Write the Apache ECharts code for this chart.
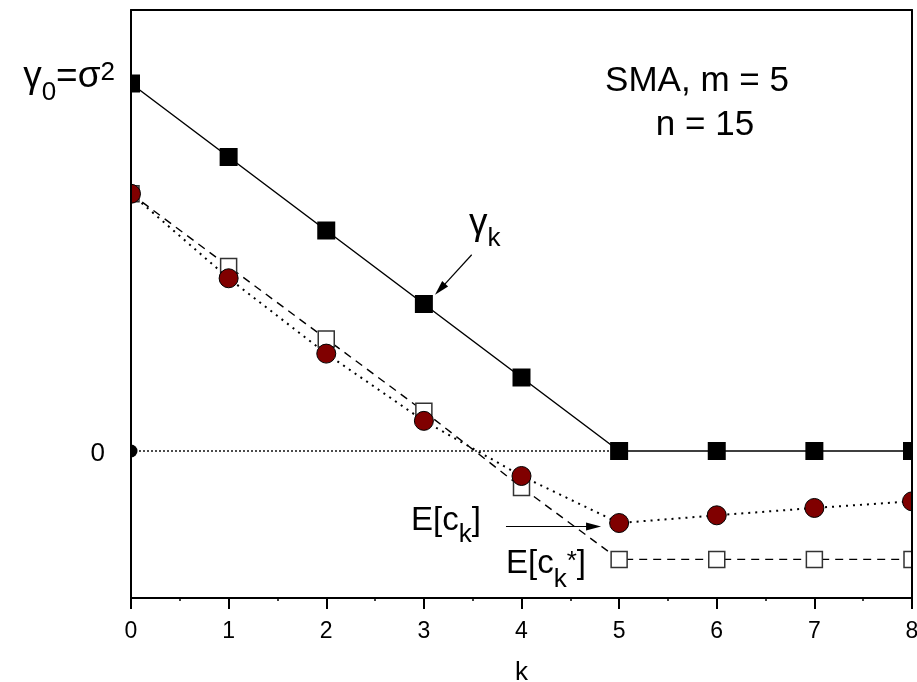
<!DOCTYPE html>
<html><head><meta charset="utf-8">
<script src="https://cdn.jsdelivr.net/npm/echarts@6/dist/echarts.min.js"></script>
<style>html,body{margin:0;padding:0;background:#fff}#c{width:917px;height:682px}</style>
</head><body><div id="c"></div>
<script>
// ---- data ----
const kValues = [0, 1, 2, 3, 4, 5, 6, 7, 8];
const gammaK = [1.0, 0.8, 0.6, 0.4, 0.2, 0, 0, 0, 0];
const expectedCk = [0.70, 0.47, 0.265, 0.082, -0.068, -0.196, -0.175, -0.155, -0.137];
const expectedCkStar = [0.70, 0.502, 0.305, 0.108, -0.099, -0.295, -0.295, -0.295, -0.295];
const zeroLine = [[0, 0], [5, 0]];
const yTickValues = [0, 1];
const yTickLabels = ['{z|0}', '{m|γ}{s|0}{m|=σ}{p|2}'];
const arrowLines = [
  [[3.49, 0.534], [3.166, 0.44]],
  [[3.841, -0.2056], [4.738, -0.2056]]
];

const FONT = 'Liberation Sans, Arial, sans-serif';
const pair = (arr) => kValues.map((k, i) => [k, arr[i]]);

const chart = echarts.init(document.getElementById('c'), null, {renderer: 'canvas'});

const option = {
  animation: false,
  backgroundColor: '#fff',
  grid: {left: 131, right: 5, top: 10, bottom: 84, containLabel: false, outerBoundsMode: 'none'},
  xAxis: [{
    type: 'value', min: 0, max: 8, interval: 1, z: 10,
    name: 'k', nameLocation: 'middle', nameGap: 62,
    nameTextStyle: {fontFamily: FONT, fontSize: 26, color: '#000'},
    axisLine: {onZero: false, lineStyle: {color: '#000', width: 2}},
    axisTick: {show: true, inside: false, length: 11, lineStyle: {color: '#000', width: 2}},
    minorTick: {show: true, splitNumber: 2, length: 3, lineStyle: {color: '#000', width: 1.5}},
    splitLine: {show: false}, minorSplitLine: {show: false},
    axisLabel: {fontFamily: FONT, fontSize: 23, color: '#000', margin: 22}
  }, {
    type: 'value', min: 0, max: 8, position: 'top', z: 10,
    axisLine: {onZero: false, lineStyle: {color: '#000', width: 2}},
    axisTick: {show: false}, axisLabel: {show: false}, splitLine: {show: false}
  }],
  yAxis: [{
    type: 'value', min: -0.4, max: 1.2, interval: 0.2, z: 10,
    axisLine: {show: true, onZero: false, lineStyle: {color: '#000', width: 2}},
    axisTick: {show: false}, splitLine: {show: false},
    axisLabel: {
      margin: 16, fontFamily: FONT, color: '#000',
      formatter: function (v) {
        for (let i = 0; i < yTickValues.length; i++) {
          if (Math.abs(v - yTickValues[i]) < 1e-6) return yTickLabels[i];
        }
        return '';
      },
      rich: {
        z: {fontFamily: FONT, fontSize: 26, color: '#000', padding: [6, 10, 0, 0]},
        m: {fontFamily: FONT, fontSize: 37, color: '#000', padding: [0, 0, 14, 0]},
        s: {fontFamily: FONT, fontSize: 26, color: '#000', padding: [19, 0, 0, 0]},
        p: {fontFamily: FONT, fontSize: 26, color: '#000', padding: [0, 0, 22, 0]}
      }
    }
  }, {
    type: 'value', min: -0.4, max: 1.2, position: 'right', z: 10,
    axisLine: {show: true, onZero: false, lineStyle: {color: '#000', width: 2}},
    axisTick: {show: false}, axisLabel: {show: false}, splitLine: {show: false}
  }],
  series: [
    {
      name: 'zero', type: 'line', z: 2,
      data: zeroLine.map((p, i) => i === 0 ? {value: p, symbol: 'circle', symbolSize: 13} : {value: p, symbol: 'none'}),
      lineStyle: {color: '#000', width: 1.4, type: [2, 2]},
      itemStyle: {color: '#000'},
      markLine: {
        silent: true, animation: false,
        symbol: ['none', 'path://M5,0L10,30L0,30Z'], symbolSize: [8, 15],
        label: {show: false},
        lineStyle: {color: '#000', width: 1.2, type: 'solid'},
        data: arrowLines.map(a => [{coord: a[0]}, {coord: a[1]}])
      }
    },
    {
      name: 'gamma', type: 'line', z: 3,
      data: pair(gammaK),
      symbol: 'rect', symbolSize: 18,
      lineStyle: {color: '#000', width: 1.5, type: 'solid'},
      itemStyle: {color: '#000'}
    },
    {
      name: 'Eck*', type: 'line', z: 3,
      data: pair(expectedCkStar),
      symbol: 'rect', symbolSize: 16,
      lineStyle: {color: '#000', width: 1.4, type: [8, 6]},
      itemStyle: {color: '#fff', borderColor: '#333', borderWidth: 1.5}
    },
    {
      name: 'Eck', type: 'line', z: 4,
      data: pair(expectedCk),
      symbol: 'circle', symbolSize: 19,
      lineStyle: {color: '#000', width: 2, type: [2, 5]},
      itemStyle: {color: '#800000', borderColor: '#000', borderWidth: 1}
    }
  ],
  graphic: [
    // masks outside the plot rectangle (clip markers at the frame)
    {type: 'rect', z: 6, silent: true, shape: {x: 0, y: 0, width: 131, height: 682}, style: {fill: '#fff'}},
    {type: 'rect', z: 6, silent: true, shape: {x: 912, y: 0, width: 5, height: 682}, style: {fill: '#fff'}},
    {type: 'rect', z: 6, silent: true, shape: {x: 0, y: 0, width: 917, height: 10}, style: {fill: '#fff'}},
    {type: 'rect', z: 6, silent: true, shape: {x: 0, y: 598, width: 917, height: 84}, style: {fill: '#fff'}},
    // annotations
    {type: 'text', z: 20, silent: true, style: {x: 697, y: 81, text: 'SMA, m = 5', align: 'center', verticalAlign: 'middle', font: '35px ' + FONT, fill: '#000'}},
    {type: 'text', z: 20, silent: true, style: {x: 705, y: 125, text: 'n = 15', align: 'center', verticalAlign: 'middle', font: '35px ' + FONT, fill: '#000'}},
    {type: 'text', z: 20, silent: true, style: {
      x: 469, y: 232, text: '{m|γ}{s|k}', align: 'left', verticalAlign: 'middle',
      rich: {
        m: {fontFamily: FONT, fontSize: 37, fill: '#000', padding: [0, 0, 17, 0]},
        s: {fontFamily: FONT, fontSize: 26, fill: '#000', padding: [13, 0, 0, 0]}
      }}},
    {type: 'text', z: 20, silent: true, style: {
      x: 411, y: 532, text: '{m|E[c}{s|k}{m|]}', align: 'left', verticalAlign: 'middle',
      rich: {
        m: {fontFamily: FONT, fontSize: 33, fill: '#000', padding: [0, 0, 22, 0]},
        s: {fontFamily: FONT, fontSize: 26, fill: '#000', padding: [5, 0, 0, 0]}
      }}},
    {type: 'text', z: 20, silent: true, style: {
      x: 506, y: 575, text: '{m|E[c}{s|k}{p|*}{m|]}', align: 'left', verticalAlign: 'middle',
      rich: {
        m: {fontFamily: FONT, fontSize: 33, fill: '#000', padding: [0, 0, 22, 0]},
        s: {fontFamily: FONT, fontSize: 26, fill: '#000', padding: [9, 0, 0, 0]},
        p: {fontFamily: FONT, fontSize: 26, fill: '#000', padding: [0, 0, 27, 0]}
      }}}
  ]
};
chart.setOption(option);
</script>
</body></html>
